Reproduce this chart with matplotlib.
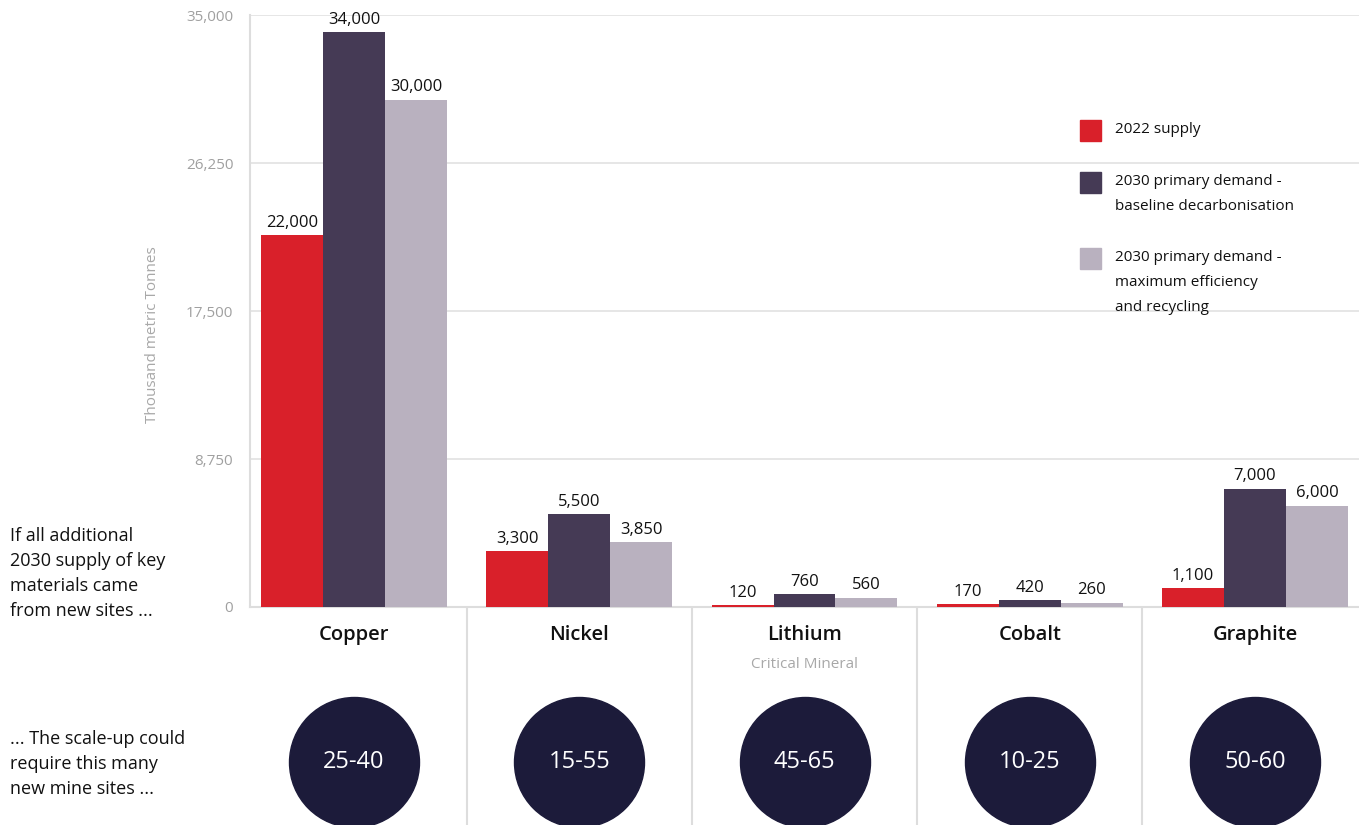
import matplotlib.pyplot as plt
from matplotlib.patches import Rectangle
import numpy as np

plt.rcParams['font.family'] = ['Open Sans', 'DejaVu Sans']

minerals = ['Copper', 'Nickel', 'Lithium', 'Cobalt', 'Graphite']
supply_2022 = [22000, 3300, 120, 170, 1100]
demand_baseline = [34000, 5500, 760, 420, 7000]
demand_max_eff = [30000, 3850, 560, 260, 6000]
mine_sites = ['25-40', '15-55', '45-65', '10-25', '50-60']
series_names = ['2022 supply',
                '2030 primary demand -\nbaseline decarbonisation',
                '2030 primary demand -\nmaximum efficiency\nand recycling']
colors = ['#d9202a', '#453a55', '#b9b1bf']
yticks = [0, 8750, 17500, 26250, 35000]

W, H = 1359, 825
fig = plt.figure(figsize=(W / 100, H / 100), dpi=100)

# main bar axes
ax = fig.add_axes([250 / W, 218 / H, (W - 250) / W, 592 / H])
x = np.arange(len(minerals))
bw = 0.275
for i, vals in enumerate([supply_2022, demand_baseline, demand_max_eff]):
    bars = ax.bar(x + (i - 1) * bw, vals, bw, color=colors[i], zorder=3)
    ax.bar_label(bars, labels=[f'{v:,}' for v in vals], padding=3,
                 fontsize=12, color='#111111')

ax.set_xlim(-0.462, 4.462)
ax.set_ylim(0, 35000)
ax.set_yticks(yticks)
ax.set_yticklabels([f'{t:,}' for t in yticks], color='#a0a0a0', fontsize=11)
ax.set_xticks([])
ax.tick_params(axis='y', length=0, pad=12)
ax.grid(axis='y', color='#e2e2e2', linewidth=1.2, zorder=0)
for s in ['top', 'right']:
    ax.spines[s].set_visible(False)
for s in ['left', 'bottom']:
    ax.spines[s].set_color('#dddddd')
    ax.spines[s].set_linewidth(1.5)
fig.text(153 / W, 1 - 335 / H, 'Thousand metric Tonnes', rotation=90,
         color='#a8a8a8', fontsize=11, ha='center', va='center')

# legend drawn by hand
leg_y = [130, 182, 258]
for c, name, yy in zip(colors, series_names, leg_y):
    fig.add_artist(Rectangle((1080 / W, 1 - (yy + 11) / H), 21 / W, 21 / H,
                             color=c, transform=fig.transFigure))
    fig.text(1115 / W, 1 - (yy - 8) / H, name, fontsize=11, color='#111111',
             va='top', ha='left', linespacing=1.9)

# lower section: labels and mine-site circles
ax2 = fig.add_axes([250 / W, 0, (W - 250) / W, 218 / H])
ax2.set_xlim(-0.462, 4.462)
ax2.set_ylim(0, 218)
ax2.axis('off')
for b in x[:-1] + 0.5:
    ax2.plot([b, b], [0, 218], color='#dddddd', linewidth=1.5)
for i, m in enumerate(minerals):
    ax2.text(i, 218 - 28, m, ha='center', va='center', fontsize=14.5,
             color='#111111', fontweight='semibold')
ax2.text(2, 218 - 58, 'Critical Mineral', ha='center', va='center',
         fontsize=11, color='#a8a8a8')
ax2.scatter(x, [63] * len(x), s=(130 * 0.72) ** 2, color='#1c1b3a',
            clip_on=False, zorder=3)
for i, s in enumerate(mine_sites):
    ax2.text(i, 63, s, ha='center', va='center', fontsize=17,
             color='white', zorder=4)

fig.text(10 / W, 1 - 527 / H,
         'If all additional\n2030 supply of key\nmaterials came\nfrom new sites ...',
         fontsize=13, color='#111111', va='top', ha='left', linespacing=1.5)
fig.text(10 / W, 1 - 730 / H,
         '... The scale-up could\nrequire this many\nnew mine sites ...',
         fontsize=13, color='#111111', va='top', ha='left', linespacing=1.5)

fig.savefig('out.png', dpi=100)
